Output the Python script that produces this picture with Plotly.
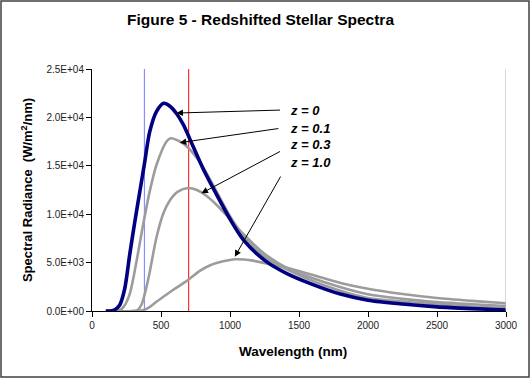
import plotly.graph_objects as go

# ---- data ----
wl_z0 = [100, 130, 160, 200, 237, 273, 310, 346, 382, 418, 467, 520, 565, 612, 660, 708, 805,
         900, 1000, 1100, 1264, 1409, 1578, 1800, 2000, 2250, 2500, 2750, 3000]
rad_z0 = [0, 0, 100, 600, 2300, 5800, 9200, 12300, 15400, 18500, 20600, 21450, 21150, 20400, 19300,
          17800, 14700, 12100, 9500, 7300, 5100, 3890, 2860, 1750, 1120, 720, 430, 250, 110]

wl_z01 = [100, 175, 200, 230, 273, 322, 370, 418, 467, 539, 570, 660, 781, 900, 1000, 1100, 1264, 1433,
          1675, 1990, 2250, 2500, 2750, 3000]
rad_z01 = [0, 0, 80, 450, 1750, 5090, 8880, 12330, 15080, 17490, 17840, 17320, 15420, 12400, 9800, 7700,
           5450, 4150, 2690, 1370, 980, 690, 460, 280]

wl_z03 = [100, 290, 330, 360, 390, 418, 467, 520, 563, 620, 696, 760, 829, 900, 974, 1100, 1264, 1433,
          1675, 1990, 2250, 2500, 2750, 3000]
rad_z03 = [0, 0, 100, 700, 2200, 4000, 7600, 10200, 11400, 12300, 12700, 12500, 11900, 11000, 9900, 7900,
           5750, 4300, 3030, 1760, 1250, 920, 700, 520]

wl_z10 = [100, 330, 380, 420, 467, 530, 587, 696, 781, 853, 902, 1035, 1167, 1312, 1433, 1675, 1800,
          1990, 2250, 2500, 2750, 3000]
rad_z10 = [0, 0, 120, 420, 950, 1600, 2170, 3200, 4150, 4700, 4950, 5340, 5200, 4750, 4400, 3400, 2900,
           2330, 1750, 1340, 1050, 800]

visible_band_nm = [380, 700]
band_colors = ["#8C8CFF", "#FF3030"]

series_labels = ["z = 0", "z = 0.1", "z = 0.3", "z = 1.0"]
# arrow heads (on curves) and label anchor positions, in data units
arrow_head_x = [612, 636, 793, 1035]
arrow_head_y = [20450, 17390, 12160, 5610]
arrow_tail_x = [1373, 1361, 1373, 1373]
arrow_tail_y = [20760, 18870, 16560, 14050]
label_x = [1419, 1419, 1419, 1419]
label_y = [20760, 18900, 17150, 15390]

x_ticks = [0, 500, 1000, 1500, 2000, 2500, 3000]
y_ticks = [0, 5000, 10000, 15000, 20000, 25000]
y_tick_labels = ["0.0E+00", "5.0E+03", "1.0E+04", "1.5E+04", "2.0E+04", "2.5E+04"]

FONT = "Liberation Sans, Arial, sans-serif"

fig = go.Figure()

for xv, col in zip(visible_band_nm, band_colors):
    fig.add_trace(go.Scatter(x=[xv, xv], y=[0, 25000], mode="lines",
                             line=dict(color=col, width=1.2), hoverinfo="skip", showlegend=False))

gray = "#9C9C9C"
for wl, rad in [(wl_z10, rad_z10), (wl_z03, rad_z03), (wl_z01, rad_z01)]:
    fig.add_trace(go.Scatter(x=wl, y=rad, mode="lines",
                             line=dict(color=gray, width=2.6, shape="spline", smoothing=0.8),
                             showlegend=False))
fig.add_trace(go.Scatter(x=wl_z0, y=rad_z0, mode="lines",
                         line=dict(color="#000080", width=3.6, shape="spline", smoothing=0.8),
                         showlegend=False))

annotations = []
for i in range(len(series_labels)):
    annotations.append(dict(x=arrow_head_x[i], y=arrow_head_y[i], ax=arrow_tail_x[i], ay=arrow_tail_y[i],
                            xref="x", yref="y", axref="x", ayref="y", text="", showarrow=True,
                            arrowhead=2, arrowsize=1.3, arrowwidth=1, arrowcolor="#000000", standoff=0))
    annotations.append(dict(x=label_x[i], y=label_y[i], xref="x", yref="y", text=series_labels[i],
                            showarrow=False, xanchor="left", yanchor="middle",
                            font=dict(family=FONT, size=13, color="#000000", weight="bold", style="italic")))

# chart title (centred on the whole chart, not the plot area)
annotations.append(dict(x=(260 - 92) / 414, y=(311 - 19) / 242, xref="paper", yref="paper",
                        text="Figure 5 - Redshifted Stellar Spectra",
                        showarrow=False, font=dict(family=FONT, size=15.5, color="#000000", weight="bold"),
                        xanchor="center", yanchor="middle"))
# x-axis title
annotations.append(dict(x=(293 - 92) / 414, y=(311 - 351) / 242, xref="paper", yref="paper",
                        text="Wavelength (nm)",
                        showarrow=False, font=dict(family=FONT, size=13.5, color="#000000", weight="bold"),
                        xanchor="center", yanchor="middle"))

fig.update_layout(
    width=530, height=378,
    margin=dict(l=92, r=24, t=69, b=67, autoexpand=False),
    paper_bgcolor="white", plot_bgcolor="white",
    annotations=annotations,
    showlegend=False,
    font=dict(family=FONT, size=10, color="#222222"),
    shapes=[
        dict(type="rect", xref="paper", yref="paper",
             x0=(1 - 92) / 414, x1=(529 - 92) / 414, y0=(311 - 377) / 242, y1=(311 - 1) / 242,
             line=dict(color="#404040", width=1.5), fillcolor="rgba(0,0,0,0)", layer="below"),
        dict(type="line", xref="x", yref="y", x0=3000, x1=3000, y0=0, y1=25000,
             line=dict(color="#B0B0B0", width=1)),
    ],
)

fig.update_xaxes(range=[0, 3000], tickvals=x_ticks, ticks="outside", ticklen=5, tickcolor="#000000",
                 showline=True, linecolor="#000000", linewidth=1, showgrid=False, zeroline=False,
                 tickfont=dict(family=FONT, size=10, color="#222222"))
fig.update_yaxes(range=[0, 25000], tickvals=y_ticks, ticktext=y_tick_labels, ticks="outside", ticklen=5,
                 tickcolor="#000000", showline=True, linecolor="#000000", linewidth=1, showgrid=False,
                 zeroline=False, tickfont=dict(family=FONT, size=10, color="#222222"),
                 title=dict(text="<b>Spectral Radiance  (W/m<sup>2</sup>/nm)</b>",
                            font=dict(family=FONT, size=13, color="#000000"), standoff=10))

fig.write_html("out.html", config={"displayModeBar": False},
               post_script="document.body.style.margin='0';document.body.style.padding='0';")
